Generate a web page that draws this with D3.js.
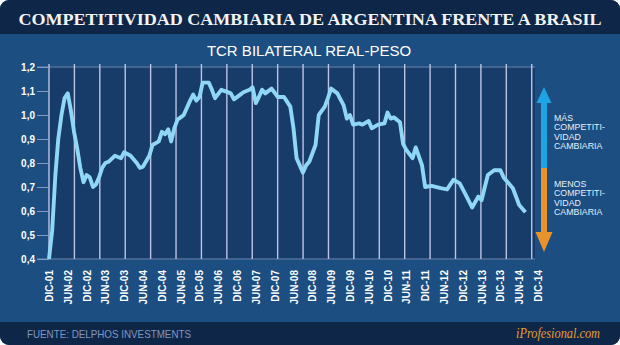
<!DOCTYPE html>
<html>
<head>
<meta charset="utf-8">
<script src="https://cdn.jsdelivr.net/npm/d3@7"></script>
<style>
	body { margin: 0; background: #ffffff; }
	svg { display: block; }
</style>
</head>
<body>
<script>
// data (monthly, TCR bilateral real-peso)
	var dates = ['2001-12','2002-01','2002-02','2002-03','2002-04','2002-05','2002-06','2002-07','2002-08','2002-09','2002-10','2002-11',
		'2002-12','2003-01','2003-02','2003-03','2003-04','2003-05','2003-06','2003-07','2003-09','2003-11','2003-12','2004-02',
		'2004-04','2004-05','2004-06','2004-08','2004-09','2004-11','2004-12','2005-01','2005-02','2005-03','2005-04','2005-05',
		'2005-06','2005-07','2005-09','2005-10','2005-11','2005-12','2006-01','2006-03','2006-04','2006-05','2006-07','2006-09',
		'2006-10','2006-11','2007-01','2007-02','2007-04','2007-05','2007-06','2007-07','2007-08','2007-09','2007-11','2008-01',
		'2008-03','2008-04','2008-05','2008-06','2008-07','2008-08','2008-09','2008-10','2008-11','2009-01','2009-02','2009-04',
		'2009-05','2009-06','2009-08','2009-10','2009-11','2009-12','2010-01','2010-03','2010-04','2010-06','2010-07','2010-09',
		'2010-11','2010-12','2011-01','2011-02','2011-04','2011-05','2011-06','2011-08','2011-09','2011-11','2011-12','2012-02',
		'2012-05','2012-07','2012-09','2012-11','2013-01','2013-03','2013-05','2013-06','2013-08','2013-10','2013-12','2014-01',
		'2014-04','2014-06','2014-08','2014-10'],
		values = [0.40,0.52,0.75,0.90,1.00,1.07,1.09,1.02,0.93,0.86,0.78,0.72,
		0.75,0.74,0.70,0.71,0.74,0.78,0.80,0.805,0.83,0.82,0.845,0.83,
		0.80,0.78,0.785,0.83,0.875,0.89,0.93,0.92,0.94,0.89,0.945,0.98,
		0.99,1.00,1.06,1.085,1.06,1.075,1.135,1.135,1.105,1.07,1.105,1.095,
		1.09,1.065,1.085,1.095,1.105,1.115,1.05,1.075,1.105,1.09,1.11,1.075,
		1.075,1.055,1.035,0.945,0.82,0.79,0.76,0.79,0.805,0.875,1.00,1.035,
		1.07,1.11,1.09,1.04,0.985,1.00,0.96,0.965,0.96,0.975,0.945,0.96,
		0.965,1.01,0.985,0.99,0.97,0.88,0.855,0.82,0.865,0.79,0.70,0.705,
		0.695,0.69,0.73,0.715,0.665,0.615,0.66,0.645,0.75,0.77,0.77,0.74,
		0.695,0.625,0.595];

	var y_ticks = [0.4, 0.5, 0.6, 0.7, 0.8, 0.9, 1.0, 1.1, 1.2],
		x_ticks = ['2001-12','2002-06','2002-12','2003-06','2003-12','2004-06','2004-12','2005-06','2005-12','2006-06',
			'2006-12','2007-06','2007-12','2008-06','2008-12','2009-06','2009-12','2010-06','2010-12','2011-06',
			'2011-12','2012-06','2012-12','2013-06','2013-12','2014-06','2014-12'],
		month_names = ['ENE','FEB','MAR','ABR','MAY','JUN','JUL','AGO','SEP','OCT','NOV','DIC'],
		up_label = ['MÁS', 'COMPETITI-', 'VIDAD', 'CAMBIARIA'],
		down_label = ['MENOS', 'COMPETITI-', 'VIDAD', 'CAMBIARIA'];

// parameters for layout
	var width = 620,
		height = 345,
		title_h = 34,
		footer_y = 322,
		plot = {left: 49, right: 538, top: 67, bottom: 259},
		n_grid = 20,
		navy = '#0e2749',
		mid = '#1c4e82',
		plot_bg = '#173c69',
		line_col = '#8fd7f5',
		grid_col = '#bcc4e4',
		sans = 'Liberation Sans, Arial, sans-serif',
		serif = 'Liberation Serif, Times New Roman, serif';

	var parse = d3.timeParse('%Y-%m'),
		data = dates.map(function(d, i) { return {date: parse(d), value: values[i]}; });

	var x = d3.scaleTime()
		.domain([parse(x_ticks[0]), parse(x_ticks[x_ticks.length - 1])])
		.range([plot.left, plot.right]);
	var y = d3.scaleLinear()
		.domain([0.4, 1.2])
		.range([plot.bottom, plot.top]);
	// vertical grid is spaced independently of the date ticks
	var gx = d3.scaleLinear()
		.domain([0, n_grid - 1])
		.range([x(data[0].date), x(data[data.length - 1].date)]);

	var svg = d3.select('body').append('svg')
		.attr('width', width)
		.attr('height', height);

	var defs = svg.append('defs');
	defs.append('clipPath').attr('id', 'panel')
	  .append('rect')
		.attr('width', width)
		.attr('height', height)
		.attr('rx', 9)
		.attr('ry', 9);

	var g = svg.append('g').attr('clip-path', 'url(#panel)');

// background bands
	g.append('rect')
		.attr('width', width)
		.attr('height', height)
		.style('fill', mid);
	g.append('rect')
		.attr('width', width)
		.attr('height', title_h)
		.style('fill', navy);
	g.append('rect')
		.attr('y', footer_y)
		.attr('width', width)
		.attr('height', height - footer_y)
		.style('fill', navy);

// titles
	g.append('text')
		.attr('x', width / 2)
		.attr('y', 25)
		.attr('text-anchor', 'middle')
		.attr('textLength', 583)
		.attr('lengthAdjust', 'spacingAndGlyphs')
		.style('font-family', serif)
		.style('font-weight', 'bold')
		.style('font-size', '17px')
		.style('fill', '#f4f4f4')
		.text('COMPETITIVIDAD CAMBIARIA DE ARGENTINA FRENTE A BRASIL');

	g.append('text')
		.attr('x', 309)
		.attr('y', 56)
		.attr('text-anchor', 'middle')
		.style('font-family', sans)
		.style('font-size', '15px')
		.style('fill', '#ffffff')
		.text('TCR BILATERAL REAL-PESO');

// plot area
	g.append('rect')
		.attr('x', plot.left)
		.attr('y', plot.top - 1)
		.attr('width', plot.right - plot.left - 3)
		.attr('height', plot.bottom - plot.top + 2)
		.style('fill', plot_bg);

	g.selectAll('.hline')
		.data([1.2, 0.4])
	  .enter().append('line')
		.attr('x1', 37)
		.attr('x2', plot.right - 3)
		.attr('y1', function(d) { return y(d); })
		.attr('y2', function(d) { return y(d); })
		.style('stroke', '#6f8cb8')
		.style('stroke-width', 1);

	g.selectAll('.grid')
		.data(d3.range(n_grid))
	  .enter().append('line')
		.attr('x1', function(d) { return gx(d); })
		.attr('x2', function(d) { return gx(d); })
		.attr('y1', plot.top - 3)
		.attr('y2', plot.bottom)
		.style('stroke', grid_col)
		.style('stroke-width', 1.4);

// y axis
	var yAxis = d3.axisLeft(y)
		.tickValues(y_ticks)
		.tickSize(12)
		.tickPadding(2)
		.tickFormat(function(d) { return d3.format('.1f')(d).replace('.', ','); });
	var ya = g.append('g')
		.attr('transform', 'translate(' + plot.left + ',0)')
		.call(yAxis);
	ya.select('.domain').remove();
	ya.selectAll('line').style('stroke', '#7f9bc4').style('stroke-width', 1);
	ya.selectAll('text')
		.style('font-family', sans)
		.style('font-weight', 'bold')
		.style('font-size', '10px')
		.style('fill', '#ffffff');

// x axis
	var xAxis = d3.axisBottom(x)
		.tickValues(x_ticks.map(parse))
		.tickSize(0)
		.tickFormat(function(d) { return month_names[d.getMonth()] + '-' + d3.timeFormat('%y')(d); });
	var xa = g.append('g')
		.attr('transform', 'translate(0,' + (plot.bottom + 11) + ')')
		.call(xAxis);
	xa.select('.domain').remove();
	xa.selectAll('text')
		.attr('transform', 'rotate(-90)')
		.attr('x', 0)
		.attr('y', 0)
		.attr('dy', '0.35em')
		.attr('text-anchor', 'end')
		.style('font-family', sans)
		.style('font-weight', 'bold')
		.style('font-size', '10px')
		.style('fill', '#ffffff');

// the line
	var line = d3.line()
		.x(function(d) { return x(d.date); })
		.y(function(d) { return y(d.value); })
		.curve(d3.curveLinear);
	g.append('path')
		.datum(data)
		.attr('d', line)
		.style('fill', 'none')
		.style('stroke', line_col)
		.style('stroke-width', 3.9)
		.style('stroke-linejoin', 'round')
		.style('stroke-linecap', 'butt');

// competitiveness arrow
	var ax = 544,
		split = 168;
	g.append('path')
		.attr('d', 'M' + ax + ',87 L' + (ax + 7.5) + ',103 L' + (ax + 3) + ',103 L' + (ax + 3) + ',' + split +
			' L' + (ax - 3) + ',' + split + ' L' + (ax - 3) + ',103 L' + (ax - 7.5) + ',103 Z')
		.style('fill', '#1ea4e2');
	g.append('path')
		.attr('d', 'M' + (ax - 3) + ',' + split + ' L' + (ax + 3) + ',' + split + ' L' + (ax + 3) + ',232 L' + (ax + 8.5) +
			',232 L' + ax + ',252 L' + (ax - 8.5) + ',232 L' + (ax - 3) + ',232 Z')
		.style('fill', '#e8922b');

	function label_block(lines, y0) {
		g.append('text')
			.attr('x', 554)
			.attr('y', y0)
			.style('font-family', sans)
			.style('font-size', '8.8px')
			.style('fill', '#e6eef8')
		  .selectAll('tspan')
			.data(lines)
		  .enter().append('tspan')
			.attr('x', 554)
			.attr('dy', function(d, i) { return i ? 9.4 : 0; })
			.text(function(d) { return d; });
	}
	label_block(up_label, 121);
	label_block(down_label, 187);

// footer
	g.append('text')
		.attr('x', 27)
		.attr('y', 338)
		.attr('textLength', 164)
		.attr('lengthAdjust', 'spacingAndGlyphs')
		.style('font-family', sans)
		.style('font-size', '10.5px')
		.style('fill', '#8096c0')
		.text('FUENTE: DELPHOS INVESTMENTS');

	g.append('text')
		.attr('x', 516)
		.attr('y', 338)
		.attr('textLength', 84)
		.attr('lengthAdjust', 'spacingAndGlyphs')
		.style('font-family', serif)
		.style('font-style', 'italic')
		.style('font-size', '15px')
		.style('fill', '#e89b2f')
		.text('iProfesional.com');
</script>
</body>
</html>
